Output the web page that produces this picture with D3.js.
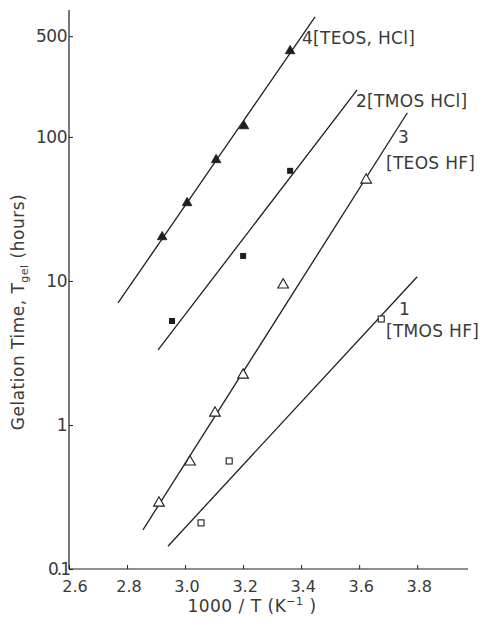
<!DOCTYPE html>
<html>
<head>
<meta charset="utf-8">
<script src="https://cdn.jsdelivr.net/npm/d3@7"></script>
<style>
  html, body { margin: 0; padding: 0; background: #fff; }
  svg text { font-family: "DejaVu Sans", "Liberation Sans", sans-serif; fill: #3a3a3a; }
</style>
</head>
<body>
<svg id="chart" width="498" height="627"></svg>
<script>
// ---- data ----
const xTicks = [2.6, 2.8, 3.0, 3.2, 3.4, 3.6, 3.8];
const xTickLabels = ["2.6", "2.8", "3.0", "3.2", "3.4", "3.6", "3.8"];
const yTicks = [0.1, 1, 10, 100, 500];
const yTickLabels = ["0.1", "1", "10", "100", "500"];

// series 4: TEOS, HCl (filled triangles)
const s4x = [2.921, 3.007, 3.107, 3.203, 3.362];
const s4y = [20.2, 34.8, 69.2, 119, 395];
const fit4x = [2.769, 3.448];
const fit4y = [7.03, 681];

// series 2: TMOS HCl (filled squares)
const s2x = [2.955, 3.200, 3.362];
const s2y = [5.27, 14.9, 58.1];
const fit2x = [2.907, 3.593];
const fit2y = [3.32, 212];

// series 3: TEOS HF (open triangles)
const s3x = [2.910, 3.017, 3.103, 3.200, 3.338, 3.624];
const s3y = [0.287, 0.554, 1.21, 2.22, 9.38, 50.2];
const fit3x = [2.855, 3.766];
const fit3y = [0.187, 147];

// series 1: TMOS HF (open squares)
const s1x = [3.055, 3.152, 3.676];
const s1y = [0.209, 0.562, 5.44];
const fit1x = [2.941, 3.800];
const fit1y = [0.144, 10.7];

// ---- drawing ----
const svg = d3.select("#chart");
const x = d3.scaleLinear().domain([2.6, 3.975]).range([69, 468]);
const y = d3.scaleLog().domain([0.1, 760]).range([569, 10]);
const ink = "#1e1e1e";

// axes
const xAxis = d3.axisBottom(x).tickValues(xTicks).tickSize(-4).tickFormat("");
const gx = svg.append("g").attr("transform", `translate(0,${y(0.1)})`).call(xAxis);
gx.select(".domain").attr("d", `M${x(2.6)},0H${x(3.975)}`).attr("stroke", ink).attr("stroke-width", 1.2);
gx.selectAll(".tick line").attr("stroke", ink);

const yAxis = d3.axisLeft(y).tickValues(yTicks).tickSize(-4).tickFormat("");
const gy = svg.append("g").attr("transform", `translate(${x(2.6)},0)`).call(yAxis);
gy.select(".domain").attr("d", `M0,${y(760)}V${y(0.1)}`).attr("stroke", ink).attr("stroke-width", 1.2);
gy.selectAll(".tick line").attr("stroke", ink);

// tick labels
svg.append("g").selectAll("text").data(xTicks).join("text")
  .attr("x", (d, i) => x(d) + (i === 0 ? 6 : 2))
  .attr("y", 592)
  .attr("text-anchor", "middle")
  .attr("font-size", 16)
  .text((d, i) => xTickLabels[i]);

svg.append("g").selectAll("text").data(yTicks).join("text")
  .attr("x", (d, i) => i === 0 ? 69 : 67)
  .attr("y", d => y(d) + 6)
  .attr("text-anchor", "end")
  .attr("font-size", 17)
  .attr("letter-spacing", (d, i) => i === 0 ? -2 : -0.5)
  .text((d, i) => yTickLabels[i]);

// axis titles
const xt = svg.append("text").attr("x", 252).attr("y", 612).attr("text-anchor", "middle").attr("font-size", 17).attr("letter-spacing", 0.5);
xt.append("tspan").text("1000 / T (K");
xt.append("tspan").attr("dy", -7).attr("font-size", 11).text("−1");
xt.append("tspan").attr("dy", 7).text(" )");

const yt = svg.append("text").attr("transform", "translate(24,312) rotate(-90)").attr("text-anchor", "middle").attr("font-size", 17).attr("letter-spacing", 0.5);
yt.append("tspan").text("Gelation Time, T");
yt.append("tspan").attr("dy", 4).attr("font-size", 11).text("gel");
yt.append("tspan").attr("dy", -4).text(" (hours)");

// fit lines
const fits = [[fit4x, fit4y], [fit2x, fit2y], [fit3x, fit3y], [fit1x, fit1y]];
const line = d3.line().x(d => x(d[0])).y(d => y(d[1]));
svg.append("g").selectAll("path").data(fits).join("path")
  .attr("d", f => line(f[0].map((v, i) => [v, f[1][i]])))
  .attr("fill", "none").attr("stroke", ink).attr("stroke-width", 1.3);

// markers
const tri = d3.symbol().type(d3.symbolTriangle);
function pts(xs, ys) { return xs.map((v, i) => [v, ys[i]]); }

svg.append("g").selectAll("path").data(pts(s4x, s4y)).join("path")
  .attr("transform", d => `translate(${x(d[0])},${y(d[1])})`)
  .attr("d", tri.size(40)()).attr("fill", ink).attr("stroke", ink).attr("stroke-width", 0.8);

svg.append("g").selectAll("rect").data(pts(s2x, s2y)).join("rect")
  .attr("x", d => x(d[0]) - 3).attr("y", d => y(d[1]) - 3)
  .attr("width", 6).attr("height", 6).attr("fill", ink);

svg.append("g").selectAll("path").data(pts(s3x, s3y)).join("path")
  .attr("transform", d => `translate(${x(d[0])},${y(d[1])})`)
  .attr("d", tri.size(50)()).attr("fill", "#fff").attr("stroke", ink).attr("stroke-width", 1.1);

svg.append("g").selectAll("rect").data(pts(s1x, s1y)).join("rect")
  .attr("x", d => x(d[0]) - 3).attr("y", d => y(d[1]) - 3)
  .attr("width", 6).attr("height", 6).attr("fill", "#fff").attr("stroke", ink).attr("stroke-width", 1.1);

// series labels
function lab(tx, ty, t) {
  svg.append("text").attr("x", tx).attr("y", ty).attr("font-size", 17).attr("letter-spacing", 0.3).text(t);
}
lab(302, 44, "4[TEOS, HCl]");
lab(356, 107, "2[TMOS HCl]");
lab(398, 143, "3");
lab(386, 169, "[TEOS HF]");
lab(399, 315, "1");
lab(386, 337, "[TMOS HF]");
</script>
</body>
</html>
